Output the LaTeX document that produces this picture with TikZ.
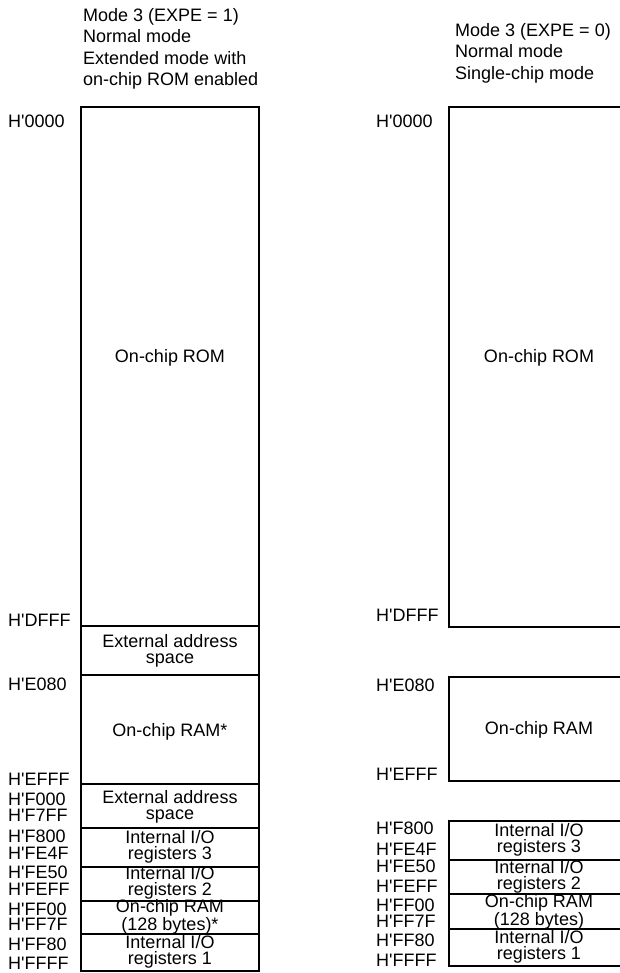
\documentclass[tikz,border=0pt]{standalone}
\usepackage{fontspec}
\setmainfont{Liberation Sans}
\usepackage{tikz}
\usetikzlibrary{positioning}
\newcommand\hq{H\textquotesingle}

\begin{document}
\begin{tikzpicture}[x=1pt,y=-1pt,every node/.style={font=\fontsize{18}{16}\selectfont,inner sep=0pt},
  map/.style={line width=2pt},
  addr/.style={anchor=west},
  area/.style={align=center},
  head/.style={align=left,anchor=north west,font=\fontsize{18}{21.5}\selectfont}]
  \useasboundingbox (0,0) rectangle (620,973);
  \clip (0,0) rectangle (620,973);
  % headers
  \node[head] (mode1) at (83,8) {Mode 3 (EXPE = 1)\\Normal mode\\Extended mode with\\on-chip ROM enabled};
  \node[head] (mode0) at (455,23) {Mode 3 (EXPE = 0)\\Normal mode\\Single-chip mode};
  % left map
  \draw[map] (81,107) rectangle (259,971);
  \foreach \y in {626,675,784,828,867,901,934} \draw[map] (81,\y) -- (259,\y);
  \node[area] (roma) at (170,358) {On-chip ROM};
  \node[area] (exta) at (170,651) {External address\\space};
  \node[area] (rama) at (170,732) {On-chip RAM*};
  \node[area] (extb) at (170,807) {External address\\space};
  \node[area] (ioca) at (170,847) {Internal I/O\\registers 3};
  \node[area] (ioba) at (170,883) {Internal I/O\\registers 2};
  \node[area] (rsma) at (170,917) {On-chip RAM\\(128 bytes)*};
  \node[area] (ioaa) at (170,952) {Internal I/O\\registers 1};
  \foreach \y/\t [count=\i] in {121/\hq 0000,620/\hq DFFF,684/\hq E080,779/\hq EFFF,799/\hq F000,
      815/\hq F7FF,836/\hq F800,853/\hq FE4F,872/\hq FE50,889/\hq FEFF,909/\hq FF00,924/\hq FF7F,
      944/\hq FF80,963/\hq FFFF}
    \node[addr] (la\i) at (8,\y) {\t};
  % right map
  \draw[map] (449,107) rectangle (629,627);
  \draw[map] (449,677) rectangle (629,781);
  \draw[map] (449,821) rectangle (629,966);
  \foreach \y in {860,894,929} \draw[map] (449,\y) -- (629,\y);
  \node[area] (romb) at (539,358) {On-chip ROM};
  \node[area] (ramb) at (539,730) {On-chip RAM};
  \node[area] (iocb) at (539,840) {Internal I/O\\registers 3};
  \node[area] (iobb) at (539,877) {Internal I/O\\registers 2};
  \node[area] (rsmb) at (539,912) {On-chip RAM\\(128 bytes)};
  \node[area] (ioab) at (539,947) {Internal I/O\\registers 1};
  \foreach \y/\t [count=\i] in {121/\hq 0000,615/\hq DFFF,685/\hq E080,774/\hq EFFF,828/\hq F800,
      849/\hq FE4F,866/\hq FE50,886/\hq FEFF,905/\hq FF00,921/\hq FF7F,940/\hq FF80,960/\hq FFFF}
    \node[addr] (lb\i) at (376,\y) {\t};
\end{tikzpicture}
\end{document}
